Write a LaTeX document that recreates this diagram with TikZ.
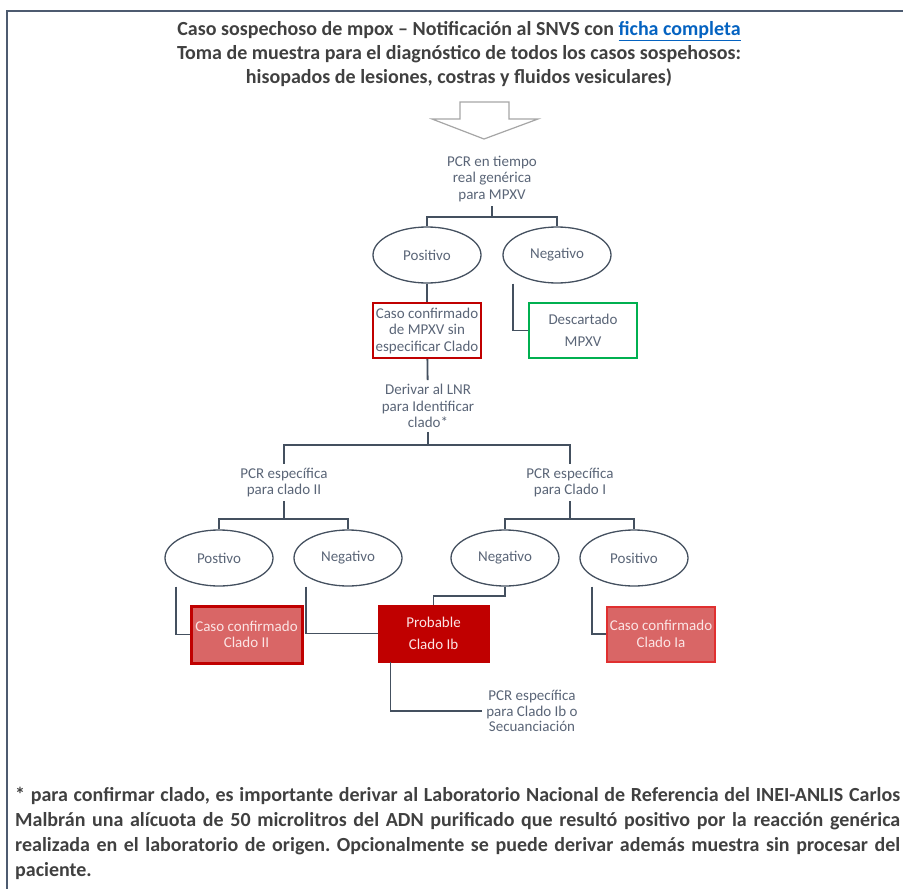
\documentclass[tikz,border=0pt]{standalone}
\usepackage{fontspec}
\setmainfont{Carlito}
\usetikzlibrary{shapes.geometric}
\frenchspacing

\definecolor{linea}{HTML}{44505F}
\definecolor{texto}{HTML}{5A6577}
\definecolor{titulo}{HTML}{404040}
\definecolor{rojo}{HTML}{C00000}
\definecolor{rojob}{HTML}{E03030}
\definecolor{rojoclaro}{HTML}{D96666}
\definecolor{rosa}{HTML}{FBE4E4}
\definecolor{verde}{HTML}{00B050}
\definecolor{marco}{HTML}{4D5B70}
\definecolor{enlace}{HTML}{0563C1}
\definecolor{flecha}{HTML}{A6A6A6}

\begin{document}
\begin{tikzpicture}[
  x=1pt,
  y=-1pt,
  font=\fontsize{15}{16.5}\selectfont,
  txt/.style={align=center, text=texto, inner sep=4pt},
  el/.style={draw=linea, line width=1.3pt, ellipse, minimum width=108pt, minimum height=56pt, inner sep=0pt, text=texto},
  caja/.style={minimum width=108pt, minimum height=55pt, align=center, inner sep=0pt},
  ln/.style={draw=linea, line width=1.8pt}
]

\useasboundingbox (0,0) rectangle (903,889);

% Marco
\draw[marco, line width=2.5pt] (7,900) -- (7,11) -- (910,11);

% Título
\node[align=center, text=titulo, font=\bfseries\fontsize{20}{24}\selectfont] (title) at (459,54)
  {Caso sospechoso de mpox – Notificación al SNVS con \textcolor{enlace}{\underline{ficha completa}}\\
   Toma de muestra para el diagnóstico de todos los casos sospehosos:\\
   hisopados de lesiones, costras y fluidos vesiculares)};

% Flecha hueca
\draw[flecha, line width=1.2pt, fill=white] (460,102) -- (509,102) -- (509,119) -- (538,119)
  -- (484,139) -- (432,119) -- (460,119) -- cycle;

% Primer nivel
\node[txt] (pcr) at (492,179) {PCR en tiempo\\real genérica\\para MPXV};
\node[el] (pos) at (427,255) {Positivo};
\node[el] (neg) at (557,255) {Negativo};
\node[caja, draw=rojo, line width=2.2pt, text=texto] (conf) at (427,330.5) {Caso confirmado\\de MPXV sin\\especificar Clado};
\node[caja, draw=verde, line width=2.2pt, text=texto] (desc) at (583,330.5) {Descartado\\[5pt]MPXV};
\node[txt] (deriv) at (428,406) {Derivar al LNR\\para Identificar\\clado*};

% Segundo nivel
\node[txt] (pcrII) at (284,482.5) {PCR específica\\para clado II};
\node[txt] (pcrI) at (570,482.5) {PCR específica\\para Clado I};
\node[el] (posII) at (219,558) {Postivo};
\node[el] (negII) at (348,558) {Negativo};
\node[el] (negI) at (505,558) {Negativo};
\node[el] (posI) at (634,558) {Positivo};

\node[caja, minimum width=111pt, minimum height=57pt, fill=rojoclaro, draw=rojo, line width=3pt, text=rosa] (cII) at (246.5,634.5) {Caso confirmado\\Clado II};
\node[caja, minimum width=111pt, minimum height=57pt, fill=rojo, draw=rojo, text=rosa] (prob) at (433.5,633.5) {Probable\\[6pt]Clado Ib};
\node[caja, fill=rojoclaro, draw=rojob, line width=2pt, text=rosa] (cIa) at (661,634) {Caso confirmado\\Clado Ia};
\node[txt, font=\fontsize{15}{15.5}\selectfont] (sec) at (532,711) {PCR específica\\para Clado Ib o\\Secuanciación};

% Conectores
\coordinate (b1) at (492,217);
\draw[ln] (pcr) -- (b1);
\draw[ln] (pos.north) |- (b1) -| (neg.north);
\draw[ln] (pos) -- (conf);
\draw[ln] ([xshift=-44pt]neg.south) |- (desc.west);
\draw[ln] (conf) -- (deriv);

\coordinate (b2) at (428,445);
\draw[ln] (deriv) -- (b2);
\draw[ln] (pcrII.north) |- (b2) -| (pcrI.north);

\coordinate (b3) at (284,519);
\draw[ln] (pcrII) -- (b3);
\draw[ln] (posII.north) |- (b3) -| (negII.north);
\coordinate (b4) at (570,519);
\draw[ln] (pcrI) -- (b4);
\draw[ln] (negI.north) |- (b4) -| (posI.north);

\draw[ln] ([xshift=-43pt]posII.south) |- (cII.west);
\draw[ln] ([xshift=-42pt]negII.south) |- (prob.west);
\draw[ln] (negI.south) -- ++(0,9) -| (prob.north);
\draw[ln] ([xshift=-42pt]posI.south) |- (cIa.west);
\draw[ln] ([xshift=-43pt]prob.south) |- (sec.west);

% Nota
\node[anchor=north west, text width=885pt, align=justify, inner sep=0pt, text=titulo,
  font=\bfseries\fontsize{20}{25}\selectfont] (nota) at (15,787)
  {* para confirmar clado, es importante derivar al Laboratorio Nacional de Referencia del INEI-ANLIS Carlos\linebreak
   Malbrán una alícuota de 50 microlitros del ADN purificado que resultó positivo por la reacción genérica\linebreak
   realizada en el laboratorio de origen. Opcionalmente se puede derivar además muestra sin procesar del\linebreak
   paciente.};

\end{tikzpicture}
\end{document}
